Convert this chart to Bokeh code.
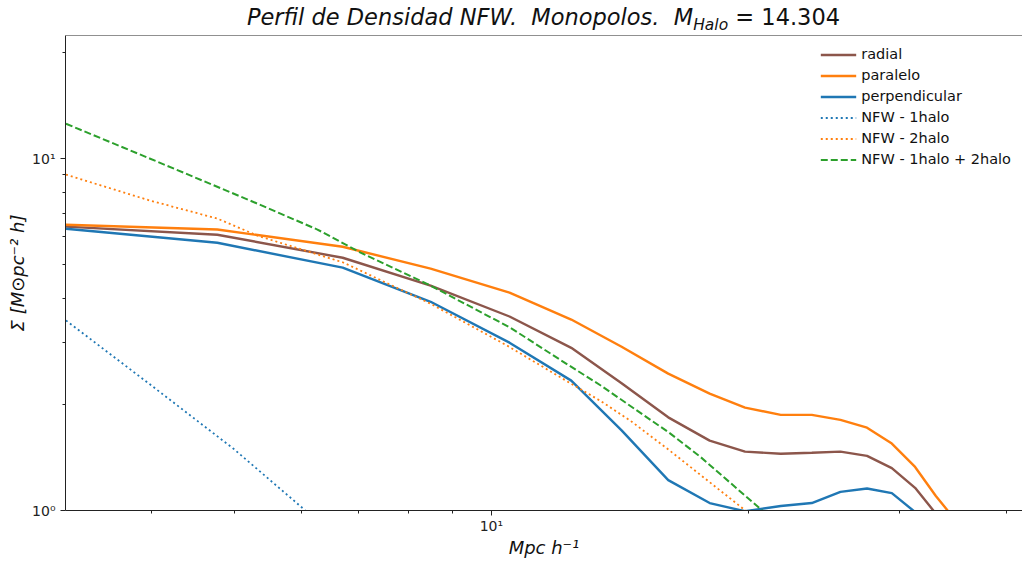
from bokeh.plotting import figure
from bokeh.models import Legend, LegendItem, FixedTicker, CustomJSTickFormatter, Div, Span
from bokeh.layouts import column
from bokeh.embed import file_html
from bokeh.resources import INLINE

# ---- data ----
r_bins = [3.18, 4.78, 6.70, 8.49, 10.5, 12.4, 14.2, 16.1, 18.0, 19.8,
          21.8, 23.7, 25.6, 27.5, 29.4, 31.3, 33.1, 35.0]
radial = [6.41, 6.08, 5.23, 4.36, 3.56, 2.90, 2.30, 1.84, 1.58, 1.47,
          1.45, 1.46, 1.47, 1.43, 1.32, 1.16, 0.98, 0.85]
paralelo = [6.49, 6.29, 5.62, 4.87, 4.16, 3.49, 2.92, 2.45, 2.15, 1.96,
            1.87, 1.87, 1.81, 1.72, 1.55, 1.33, 1.10, 0.93]
perpendicular = [6.32, 5.77, 4.90, 3.92, 3.00, 2.34, 1.69, 1.22, 1.05, 0.995,
                 1.03, 1.05, 1.13, 1.155, 1.12, 0.99, 0.85, 0.75]

nfw1_r = [3.18, 3.99, 4.99, 6.04, 6.23]
nfw1 = [3.47, 2.28, 1.50, 1.007, 0.93]

nfw2_r = [3.18, 3.99, 4.78, 5.33, 6.71, 8.49, 10.44, 12.37, 13.41, 14.54,
          16.11, 19.82, 20.36]
nfw2 = [9.01, 7.60, 6.76, 6.04, 5.07, 3.87, 2.94, 2.30, 2.05, 1.80,
        1.49, 1.0, 0.95]

nfwt_r = [3.18, 3.99, 5.225, 6.26, 7.03, 8.485, 10.52, 12.04, 13.41, 15.35,
          16.11, 17.56, 20.64, 21.20]
nfwt = [12.57, 10.0, 7.60, 6.29, 5.41, 4.36, 3.31, 2.68, 2.27, 1.81,
        1.67, 1.42, 1.01, 0.95]

x_major = [1, 10, 100]
x_minor = [4, 5, 6, 7, 8, 9, 20, 30, 40]
y_major = [1, 10, 100]
y_minor = [2, 3, 4, 5, 6, 7, 8, 9, 20]

C_BROWN = "#8c564b"
C_ORANGE = "#ff7f0e"
C_BLUE = "#1f77b4"
C_GREEN = "#2ca02c"
FONT = "DejaVu Sans"
SPINE = "#222222"

p = figure(width=1022, height=528, x_axis_type="log", y_axis_type="log",
           x_range=(3.176, 41.8), y_range=(1.0, 22.4),
           output_backend="svg", toolbar_location=None,
           min_border_left=65, min_border_right=0, min_border_top=2,
           min_border_bottom=51)
p.xgrid.visible = False
p.ygrid.visible = False
p.outline_line_color = None

for ax in (p.xaxis, p.yaxis):
    ax.axis_line_color = SPINE
    ax.major_tick_in = 0
    ax.major_tick_out = 5
    ax.minor_tick_in = 0
    ax.minor_tick_out = 3
    ax.major_tick_line_color = SPINE
    ax.minor_tick_line_color = SPINE
    ax.major_label_text_font = FONT
    ax.major_label_text_font_size = "14px"
    ax.major_label_text_color = "#222222"
    ax.axis_label_text_font = FONT
    ax.axis_label_text_font_size = "18px"
    ax.axis_label_text_font_style = "italic"
    ax.axis_label_text_color = "#111111"

fmt = CustomJSTickFormatter(code="""
if (Math.abs(tick - 1) < 1e-9) { return "10\u2070"; }
if (Math.abs(tick - 10) < 1e-9) { return "10\u00b9"; }
if (Math.abs(tick - 100) < 1e-9) { return "10\u00b2"; }
return "";
""")
p.xaxis.ticker = FixedTicker(ticks=x_major, minor_ticks=x_minor)
p.yaxis.ticker = FixedTicker(ticks=y_major, minor_ticks=y_minor)
p.xaxis.formatter = fmt
p.yaxis.formatter = fmt
p.xaxis.axis_label = "Mpc h\u207b\u00b9"
p.yaxis.axis_label = "\u03a3 [M\u2299pc\u207b\u00b2 h]"
p.xaxis.major_label_standoff = 2
p.xaxis.axis_label_standoff = 0
p.yaxis.axis_label_standoff = 1

# top spine (the right spine lies outside the picture in the reference)
p.add_layout(Span(location=22.4, dimension="width", line_color=SPINE,
                  line_width=1.2, level="overlay"))

r1 = p.line(r_bins, radial, line_color=C_BROWN, line_width=2.4)
r2 = p.line(r_bins, paralelo, line_color=C_ORANGE, line_width=2.4)
r3 = p.line(r_bins, perpendicular, line_color=C_BLUE, line_width=2.4)
r4 = p.line(nfw1_r, nfw1, line_color=C_BLUE, line_width=1.8, line_dash="2 3")
r5 = p.line(nfw2_r, nfw2, line_color=C_ORANGE, line_width=1.8, line_dash="2 3")
r6 = p.line(nfwt_r, nfwt, line_color=C_GREEN, line_width=2.0, line_dash="7 3")

legend = Legend(items=[
    LegendItem(label="radial", renderers=[r1]),
    LegendItem(label="paralelo", renderers=[r2]),
    LegendItem(label="perpendicular", renderers=[r3]),
    LegendItem(label="NFW - 1halo", renderers=[r4]),
    LegendItem(label="NFW - 2halo", renderers=[r5]),
    LegendItem(label="NFW - 1halo + 2halo", renderers=[r6]),
], location="top_right")
legend.label_text_font = FONT
legend.label_text_font_size = "14.5px"
legend.label_text_color = "#111111"
legend.border_line_alpha = 0
legend.background_fill_alpha = 0
legend.glyph_width = 36
legend.glyph_height = 15
legend.label_height = 15
legend.label_standoff = 5
legend.spacing = 5
legend.padding = 10
legend.margin = 1
p.add_layout(legend)

title_html = (
    '<div style="width:1022px;height:33px;box-sizing:border-box;'
    'padding-left:65px;padding-top:2px;text-align:center;white-space:nowrap;'
    "font-family:'DejaVu Sans';font-size:22.5px;line-height:30px;color:#111;\">"
    '<i>Perfil de Densidad NFW.&nbsp; Monopolos.&nbsp; M</i>'
    '<i style="font-size:15.5px;position:relative;top:5px;">Halo</i>'
    '<span>&nbsp;= 14.304</span></div>'
)
title = Div(text=title_html, width=1022, height=33, margin=(0, 0, 0, 0))

layout = column(title, p, spacing=0)
open("out.html", "w").write(file_html(layout, INLINE))
